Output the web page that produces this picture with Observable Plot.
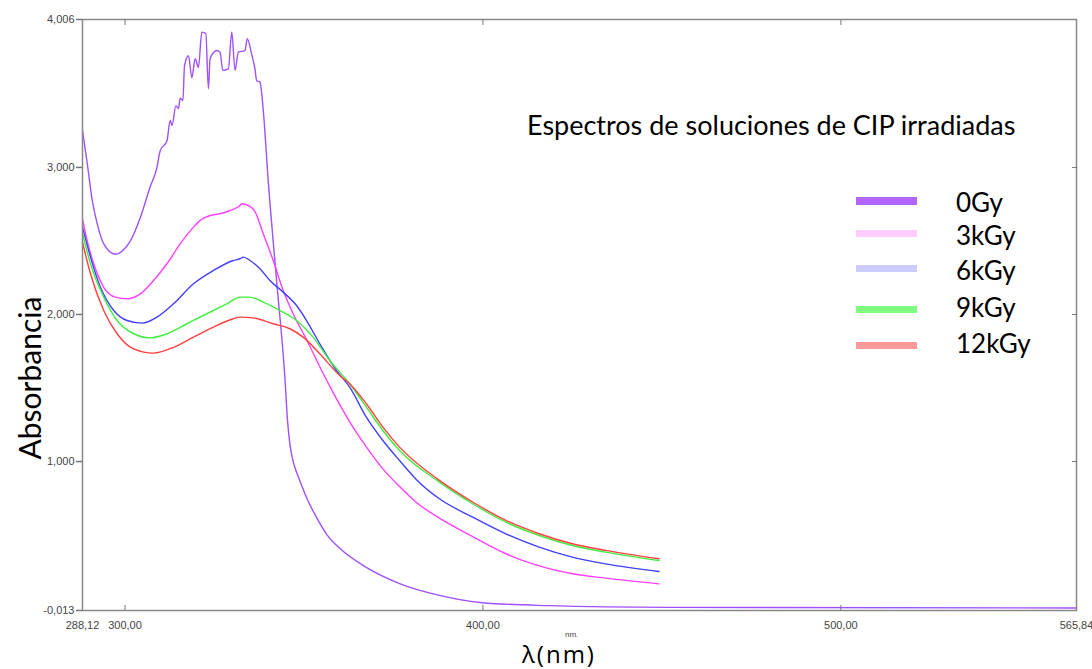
<!DOCTYPE html>
<html><head><meta charset="utf-8">
<script src="https://cdn.jsdelivr.net/npm/d3@7"></script>
<script src="https://cdn.jsdelivr.net/npm/@observablehq/plot@0.6"></script>
<style>
body{margin:0;background:#fff;}
#wrap{position:relative;width:1092px;height:669px;overflow:hidden;font-family:Lato,"Open Sans",sans-serif;background:#fff;}
#wrap svg{position:absolute;left:0;top:0;}
.ov{position:absolute;color:#000;white-space:nowrap;line-height:1;}
.sw{position:absolute;}
</style></head><body><div id="wrap"></div><script>
// ---- data (wavelength nm, absorbance) ----
const seriesNames = ["0Gy","3kGy","6kGy","9kGy","12kGy"];
const lineColors = ["#a050ff","#ff40ff","#4040ff","#40ee40","#ff4040"];
const legendColors = ["#b366ff","#ffccff","#ccccff","#80ff80","#ff9999"];

const wl0 = [288.12,289.43,290.82,292.21,294.05,297.31,299.62,301.49,304.28,307.06,308.93,309.85,311.71,312.63,313.11,314.22,314.94,315.42,316.17,316.62,317.73,318.68,319.6,320.51,321.46,322.57,323.3,323.77,325.64,326.56,327.31,328.87,329.82,330.74,331.66,333.52,334.16,335.39,336.31,336.78,337.7,338.62,340.01,342.35,344.67,345.4,346.06,346.7,347.4,348.84,351.0,353.5,356.5,359.99,367.42,376.7,387.84,399.82,418.48,451.9,565.84];
const a0  = [3.25,3.03,2.78,2.62,2.48,2.41,2.44,2.50,2.66,2.87,3.00,3.115,3.18,3.32,3.285,3.42,3.40,3.47,3.455,3.69,3.76,3.61,3.74,3.68,3.92,3.91,3.535,3.74,3.795,3.784,3.66,3.67,3.92,3.66,3.784,3.795,3.875,3.77,3.67,3.59,3.58,3.39,2.91,2.23,1.57,1.28,1.12,1.03,0.965,0.87,0.74,0.62,0.50,0.41,0.28,0.17,0.09,0.04,0.02,0.008,0.004];

const wl3 = [288.12,289.43,291.27,294.05,297.31,300.57,304.28,307.98,311.71,315.42,319.12,320.99,323.77,326.56,329.35,332.13,332.6,334.92,336.31,338.62,341.41,344.19,346.98,350.71,355.33,358.12,362.77,367.42,372.05,376.7,381.5,387.84,397.12,406.42,415.7,424.97,434.27,449.2];
const a3  = [2.65,2.50,2.345,2.185,2.118,2.107,2.14,2.231,2.345,2.48,2.594,2.64,2.673,2.685,2.707,2.741,2.753,2.735,2.70,2.549,2.367,2.163,2.005,1.83,1.60,1.47,1.27,1.10,0.95,0.83,0.72,0.615,0.49,0.373,0.29,0.237,0.207,0.168];

const wl6 = [288.12,290.35,293.13,296.84,300.57,304.75,308.93,313.55,319.12,324.69,330.27,332.13,333.05,334.92,337.7,340.49,344.19,347.93,350.71,354.42,359.07,362.77,367.42,372.05,376.7,381.5,387.84,397.12,406.42,415.7,424.97,434.27,449.2];
const a6  = [2.594,2.39,2.185,2.027,1.959,1.941,1.982,2.073,2.209,2.299,2.367,2.379,2.39,2.367,2.311,2.231,2.152,2.061,1.959,1.801,1.619,1.506,1.302,1.143,1.007,0.875,0.747,0.622,0.508,0.418,0.35,0.304,0.252];

const wl9 = [288.12,290.35,294.05,297.79,302.41,307.06,311.71,317.28,322.85,328.43,332.13,334.92,338.62,343.27,347.93,352.55,357.2,362.77,367.42,372.05,376.7,387.84,397.12,406.42,415.7,424.97,434.27,449.2];
const a9  = [2.549,2.345,2.118,1.959,1.869,1.841,1.869,1.937,2.005,2.073,2.118,2.118,2.084,2.027,1.959,1.846,1.687,1.529,1.37,1.211,1.075,0.86,0.713,0.588,0.497,0.429,0.384,0.327];

const wl12 = [288.12,290.35,294.05,297.79,302.41,307.98,313.55,319.12,324.69,330.27,332.13,335.84,341.41,346.06,349.76,354.42,359.99,362.77,367.42,372.05,376.7,387.84,397.12,406.42,415.7,424.97,434.27,449.2];
const a12  = [2.491,2.277,2.027,1.869,1.766,1.737,1.777,1.846,1.914,1.971,1.982,1.977,1.937,1.903,1.846,1.733,1.585,1.529,1.393,1.234,1.098,0.872,0.725,0.60,0.509,0.441,0.396,0.339];

const xTicks = [288.12,300,400,500,565.84];
const yTicks = [-0.013,1,2,3,4.006];

// ---- build ----
const wls = [wl0,wl3,wl6,wl9,wl12];
const abs = [a0,a3,a6,a9,a12];
const rows = [];
seriesNames.forEach((s,i)=>wls[i].forEach((w,j)=>rows.push({wl:w,a:abs[i][j],s})));

const fmtX = d => d.toFixed(2).replace(".", ",");
const fmtY = d => d.toFixed(3).replace(".", ",");
const blank = () => "";

const chart = Plot.plot({
  width:1092, height:669,
  marginLeft:82, marginRight:16, marginTop:19, marginBottom:59,
  x:{domain:[288.12,565.84]},
  y:{domain:[-0.013,4.006]},
  color:{domain:seriesNames, range:lineColors},
  style:{fontFamily:"'Liberation Sans', Arial, sans-serif", fontSize:"11px", color:"#444", background:"transparent"},
  marks:[
    ...seriesNames.map(s => Plot.line(rows.filter(r=>r.s===s), {x:"wl", y:"a", stroke:"s", strokeWidth:1.4, curve:"monotone-x"})),
    Plot.frame({stroke:"#888", strokeWidth:1.5}),
    Plot.axisY(yTicks, {anchor:"left", tickSize:6, tickPadding:2, tickFormat:fmtY, label:null, stroke:"#777", strokeWidth:1.5}),
    Plot.axisY(yTicks.slice(1,-1), {anchor:"right", tickSize:-5, tickFormat:blank, label:null, stroke:"#777"}),
    Plot.axisX(xTicks, {anchor:"bottom", tickSize:0, tickPadding:11, tickFormat:fmtX, label:null}),
    Plot.axisX(xTicks.slice(1,-1), {anchor:"bottom", tickSize:-5, tickFormat:blank, label:null, stroke:"#777"}),
    Plot.axisX(xTicks.slice(1,-1), {anchor:"top", tickSize:-5, tickFormat:blank, label:null, stroke:"#777"})
  ]
});
const wrap = document.getElementById("wrap");
wrap.appendChild(chart);

function addText(txt, css){const d=document.createElement("div");d.className="ov";d.textContent=txt;Object.assign(d.style,css);wrap.appendChild(d);return d;}
addText("Espectros de soluciones de CIP irradiadas",{left:"527px",top:"111px",fontSize:"27px"});
addText("nm.",{left:"565px",top:"631px",fontSize:"8px",fontFamily:"'Liberation Sans',Arial,sans-serif",color:"#444"});
addText("λ(nm)",{left:"522px",top:"642px",fontSize:"24px",fontFamily:"'Open Sans',Lato,sans-serif",letterSpacing:"2px"});
addText("Absorbancia",{left:"29px",top:"378px",fontSize:"30px",transform:"translate(-50%,-50%) rotate(-90deg)"});

const swY = [201,233,268,309,345];
const txY = [202,235,270,307,343];
seriesNames.forEach((s,i)=>{
  const sw=document.createElement("div");sw.className="sw";
  const h = i===0?8:7;
  Object.assign(sw.style,{left:"856px",top:(swY[i]-h/2)+"px",width:"61px",height:h+"px",background:legendColors[i]});
  wrap.appendChild(sw);
  addText(s,{left:"956px",top:(txY[i]-13)+"px",fontSize:"26px"});
});
</script></body></html>
